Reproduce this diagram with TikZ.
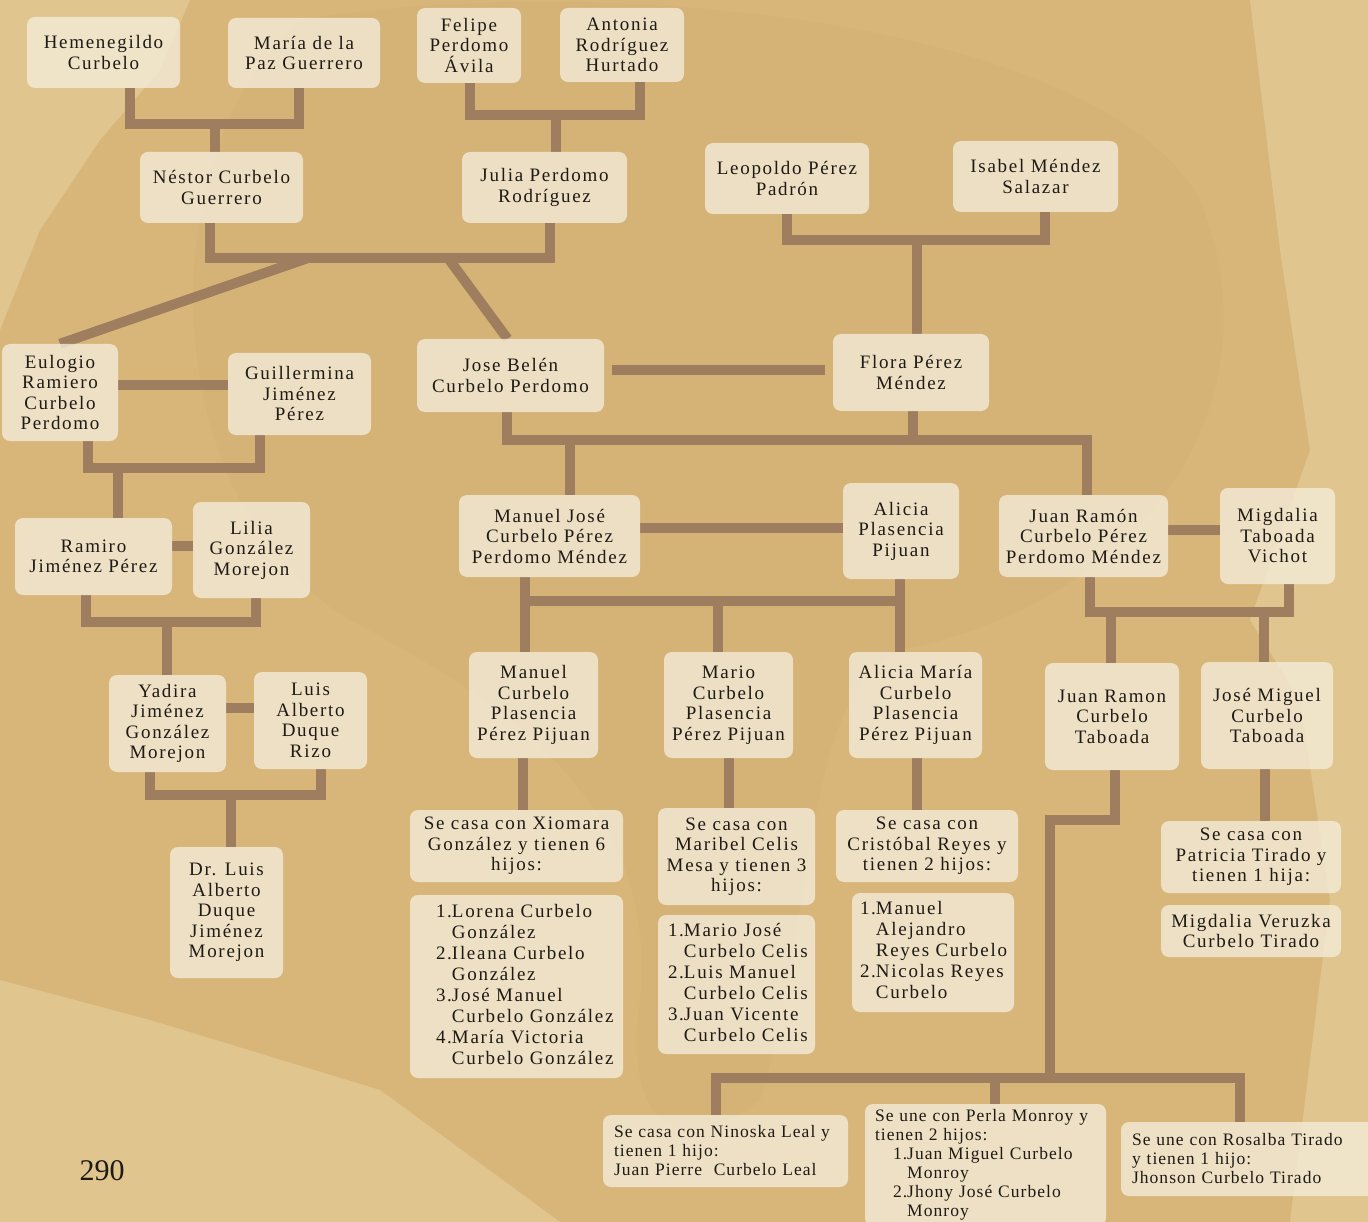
\documentclass[tikz,border=0pt]{standalone}
\usepackage{fontspec}
\setmainfont{Liberation Serif}[LetterSpace=9]
\newfontfamily\pagefont{Liberation Serif}
\newfontfamily\notefont{Liberation Serif}[LetterSpace=6]
\usetikzlibrary{calc}
\definecolor{bgtan}{HTML}{D8B67A}
\definecolor{bglight}{HTML}{E6CF9C}
\definecolor{bgdark}{HTML}{CFA96D}
\definecolor{boxfill}{HTML}{F3EAD5}
\definecolor{linebrown}{HTML}{9E7E5E}
\definecolor{ink}{HTML}{1E1A15}
\pgfdeclarelayer{bg}
\pgfdeclarelayer{lines}
\pgfsetlayers{bg,lines,main}
\tikzset{
  box/.style={rounded corners=8pt, fill=boxfill, fill opacity=0.82, text opacity=1,
    text=ink, inner sep=0pt, align=center, font=\fontsize{19}{20.5}\selectfont},
  listbox/.style={box, align=left, font=\fontsize{19}{21}\selectfont},
  notebox/.style={box, align=left, font=\notefont\fontsize{17.5}{19}\selectfont},
  conn/.style={draw=linebrown, line width=10pt, line join=miter},
}
\newcommand\mkbox[7][]{%
  \node[box,minimum width={(#5)-(#3)},minimum height={(#6)-(#4)},#1] (#2)
    at ({((#3)+(#5))/2},{((#4)+(#6))/2}) {#7};}
\begin{document}
\begin{tikzpicture}[x=1pt,y=-1pt]
\useasboundingbox (0,0) rectangle (1368,1222);
\begin{pgfonlayer}{bg}
\fill[bgtan] (0,0) rectangle (1368,1222);
\fill[bglight, opacity=0.6] (0,0) -- (190,0) -- (160,70) -- (100,140) -- (40,230) -- (0,330) -- cycle;
\fill[bglight, opacity=0.6] (1250,0) -- (1368,0) -- (1368,1222) -- (1290,1222) -- (1330,900) -- (1300,700) -- (1250,620) -- (1310,450) -- (1280,250) -- cycle;
\fill[bglight, opacity=0.6] (0,980) -- (150,1020) -- (380,1090) -- (560,1222) -- (0,1222) -- cycle;
\fill[bgdark, opacity=0.25] (300,20) .. controls (600,-30) and (1100,20) .. (1200,200) .. controls (1280,400) and (1150,600) .. (900,650) .. controls (800,700) and (820,900) .. (760,1100) .. controls (700,1150) and (620,1150) .. (640,1000) .. controls (660,800) and (500,700) .. (350,620) .. controls (150,500) and (150,150) .. (300,20) -- cycle;
\end{pgfonlayer}

% generation 1
\mkbox{hem}{27}{17}{180}{88}{Hemenegildo\\Curbelo}
\mkbox{maria}{228}{18}{380}{88}{María de la\\Paz Guerrero}
\mkbox{felipe}{417}{8}{521}{83}{Felipe\\Perdomo\\Ávila}
\mkbox{antonia}{560}{8}{684}{82}{Antonia\\Rodríguez\\Hurtado}
% generation 2
\mkbox{nestor}{140}{152}{303}{223}{Néstor Curbelo\\Guerrero}
\mkbox{julia}{462}{152}{627}{223}{Julia Perdomo\\Rodríguez}
\mkbox{leopoldo}{705}{143}{869}{214}{Leopoldo Pérez\\Padrón}
\mkbox{isabel}{953}{141}{1118}{212}{Isabel Méndez\\Salazar}
% generation 3
\mkbox{eulogio}{2}{344}{118}{441}{Eulogio\\Ramiero\\Curbelo\\Perdomo}
\mkbox{guillermina}{228}{353}{371}{435}{Guillermina\\Jiménez\\Pérez}
\mkbox{jose}{417}{339}{604}{412}{Jose Belén\\Curbelo Perdomo}
\mkbox{flora}{833}{334}{989}{411}{Flora Pérez\\Méndez}
% generation 4
\mkbox{ramiro}{15}{518}{172}{595}{Ramiro\\Jiménez Pérez}
\mkbox{lilia}{193}{502}{310}{598}{Lilia\\González\\Morejon}
\mkbox{manjose}{459}{495}{640}{577}{Manuel José\\Curbelo Pérez\\Perdomo Méndez}
\mkbox{alicia}{843}{483}{959}{579}{Alicia\\Plasencia\\Pijuan}
\mkbox{juanramon}{999}{495}{1168}{577}{Juan Ramón\\Curbelo Pérez\\Perdomo Méndez}
\mkbox{migdalia}{1220}{488}{1335}{584}{Migdalia\\Taboada\\Vichot}
% generation 5
\mkbox{yadira}{109}{675}{226}{772}{Yadira\\Jiménez\\González\\Morejon}
\mkbox{luisalb}{254}{672}{367}{769}{Luis\\Alberto\\Duque\\Rizo}
\mkbox{manuel}{469}{652}{598}{758}{Manuel\\Curbelo\\Plasencia\\Pérez Pijuan}
\mkbox{mario}{664}{652}{793}{758}{Mario\\Curbelo\\Plasencia\\Pérez Pijuan}
\mkbox{aliciam}{849}{652}{982}{758}{Alicia María\\Curbelo\\Plasencia\\Pérez Pijuan}
\mkbox{jrct}{1045}{663}{1179}{770}{Juan Ramon\\Curbelo\\Taboada}
\mkbox{jmct}{1201}{662}{1333}{769}{José Miguel\\Curbelo\\Taboada}
% generation 6
\mkbox{drluis}{170}{847}{283}{978}{Dr. Luis\\Alberto\\Duque\\Jiménez\\Morejon}
\mkbox{xio}{410}{810}{623}{882}{Se casa con Xiomara\\González y tienen 6\\hijos:}
\mkbox[listbox, inner xsep=26pt, text width=161pt]{xiolist}{410}{895}{623}{1078}{%
\begin{tabular}{@{}l@{}l@{}}1.&Lorena Curbelo\\&González\\2.&Ileana Curbelo\\&González\\3.&José Manuel\\&Curbelo González\\4.&María Victoria\\&Curbelo González\end{tabular}}
\mkbox{mari}{658}{808}{815}{905}{Se casa con\\Maribel Celis\\Mesa y tienen 3\\hijos:}
\mkbox[listbox, inner xsep=10pt, text width=137pt]{marilist}{658}{915}{815}{1054}{%
\begin{tabular}{@{}l@{}l@{}}1.&Mario José\\&Curbelo Celis\\2.&Luis Manuel\\&Curbelo Celis\\3.&Juan Vicente\\&Curbelo Celis\end{tabular}}
\mkbox{cris}{836}{810}{1018}{882}{Se casa con\\Cristóbal Reyes y\\tienen 2 hijos:}
\mkbox[listbox, inner xsep=8pt, text width=146pt]{crislist}{852}{893}{1014}{1012}{%
\begin{tabular}{@{}l@{}l@{}}1.&Manuel\\&Alejandro\\&Reyes Curbelo\\2.&Nicolas Reyes\\&Curbelo\end{tabular}}
\mkbox{patri}{1161}{821}{1341}{893}{Se casa con\\Patricia Tirado y\\tienen 1 hija:}
\mkbox{migv}{1161}{905}{1341}{957}{Migdalia Veruzka\\Curbelo Tirado}
% generation 7 notes
\mkbox[notebox, inner xsep=11pt, text width=223pt]{ninoska}{603}{1115}{848}{1187}{%
Se casa con Ninoska Leal y\\tienen 1 hijo:\\Juan Pierre\ \ Curbelo Leal}
\mkbox[notebox, inner xsep=10pt, text width=221pt]{perla}{865}{1104}{1106}{1226}{%
\begin{tabular}{@{}l@{}l@{}}\multicolumn{2}{@{}l@{}}{Se une con Perla Monroy y}\\
\multicolumn{2}{@{}l@{}}{tienen 2 hijos:}\\
\hspace*{18pt}1.&Juan Miguel Curbelo\\&Monroy\\
\hspace*{18pt}2.&Jhony José Curbelo\\&Monroy\end{tabular}}
\mkbox[notebox, inner xsep=11pt, text width=232pt]{rosalba}{1121}{1122}{1375}{1196}{%
Se une con Rosalba Tirado\\y tienen 1 hijo:\\Jhonson Curbelo Tirado}

\node[text=ink, font=\pagefont\fontsize{30}{30}\selectfont, inner sep=0pt] (pg) at (102,1171) {290};

\begin{pgfonlayer}{lines}
% C1
\coordinate (j1) at (215,124);
\draw[conn] ($(hem.south)+(26.5,0)$) |- (j1) -| ($(maria.south)+(-5,0)$);
\draw[conn] (j1) -- ($(nestor.north)+(-6.5,0)$);
% C2
\coordinate (j2) at (556,115);
\draw[conn] ($(felipe.south)+(1,0)$) |- (j2) -| ($(antonia.south)+(18,0)$);
\draw[conn] (j2) -- ($(julia.north)+(11.5,0)$);
% C3
\coordinate (dl) at (308,258);
\coordinate (dr) at (448,258);
\draw[conn] ($(nestor.south)+(-11.5,0)$) |- (dl) -- (dr) -| ($(julia.south)+(5.5,0)$);
\draw[conn] (dl) -- (eulogio.north);
\draw[conn] (dr) -- ($(jose.north)+(-3,0)$);
% C4
\coordinate (j4) at (917,240);
\draw[conn] (leopoldo.south) |- (j4) -| ($(isabel.south)+(9.5,0)$);
\draw[conn] (j4) -- ($(flora.north)+(6,0)$);
% marriages
\draw[conn] ($(eulogio.east)+(0,-7.5)$) -- ($(guillermina.west)+(0,-9)$);
\draw[conn] ($(jose.east)+(8,-5.5)$) -- ($(flora.west)+(-8,-2.5)$);
\draw[conn] ($(manjose.east)+(0,-8)$) -- ($(alicia.west)+(0,-3)$);
\draw[conn] ($(juanramon.east)+(0,-6)$) -- ($(migdalia.west)+(0,-6)$);
\draw[conn] ($(ramiro.east)+(0,-10.5)$) -- ($(lilia.west)+(0,-4)$);
\draw[conn] ($(yadira.east)+(0,-15.5)$) -- ($(luisalb.west)+(0,-12.5)$);
% C6
\coordinate (j6) at (118,468);
\draw[conn] ($(eulogio.south)+(28,0)$) |- (j6) -| ($(guillermina.south)+(-39.5,0)$);
\draw[conn] (j6) -- ($(ramiro.north)+(24.5,0)$);
% C8
\coordinate (j8r) at (1087,440);
\coordinate (j8f) at (913,440);
\coordinate (j8m) at (570,440);
\draw[conn] ($(jose.south)+(-3.5,0)$) |- (j8r) -- ($(juanramon.north)+(3.5,0)$);
\draw[conn] ($(flora.south)+(2,0)$) -- (j8f);
\draw[conn] (j8m) -- ($(manjose.north)+(20.5,0)$);
% C12
\coordinate (j12) at (167,622);
\draw[conn] ($(ramiro.south)+(-7.5,0)$) |- (j12) -| ($(lilia.south)+(4.5,0)$);
\draw[conn] (j12) -- ($(yadira.north)+(-0.5,0)$);
% C14
\coordinate (j14) at (231,795);
\draw[conn] ($(yadira.south)+(-17.5,0)$) |- (j14) -| ($(luisalb.south)+(10.5,0)$);
\draw[conn] (j14) -- ($(drluis.north)+(4.5,0)$);
% C15
\coordinate (j15l) at (525,601);
\coordinate (j15r) at (900,601);
\coordinate (j15m) at (718,601);
\draw[conn] ($(manjose.south)+(-24.5,0)$) -- ($(manuel.north)+(-8.5,0)$);
\draw[conn] ($(alicia.south)+(-1,0)$) -- ($(aliciam.north)+(-15.5,0)$);
\draw[conn, line cap=rect] (j15l) -- (j15r);
\draw[conn] (j15m) -- ($(mario.north)+(-10.5,0)$);
% C16
\coordinate (j16a) at (1111,612);
\coordinate (j16b) at (1264,612);
\draw[conn] ($(juanramon.south)+(6.5,0)$) |- ($(migdalia.south)+(11.5,28)$) -- ($(migdalia.south)+(11.5,0)$);
\draw[conn] (j16a) -- ($(jrct.north)+(-1,0)$);
\draw[conn] (j16b) -- ($(jmct.north)+(-3,0)$);
% to spouses notes
\draw[conn] ($(manuel.south)+(-10.5,0)$) -- ($(xio.north)+(6.5,0)$);
\draw[conn] ($(mario.south)+(0.5,0)$) -- ($(mari.north)+(-7.5,0)$);
\draw[conn] ($(aliciam.south)+(1.5,0)$) -- ($(cris.north)+(-10,0)$);
\draw[conn] ($(jmct.south)+(-2,0)$) -- ($(patri.north)+(14,0)$);
% C21
\coordinate (k1) at (1050,820);
\coordinate (k2) at (1050,1078);
\coordinate (k3) at (995,1078);
\draw[conn] ($(jrct.south)+(3,0)$) |- (k1) -- (k2);
\draw[conn] ($(ninoska.north)+(-9.5,0)$) |- ($(rosalba.north)+(-8,-44)$) -- ($(rosalba.north)+(-8,0)$);
\draw[conn] (k3) -- ($(perla.north)+(9.5,0)$);
\end{pgfonlayer}
\end{tikzpicture}
\end{document}
